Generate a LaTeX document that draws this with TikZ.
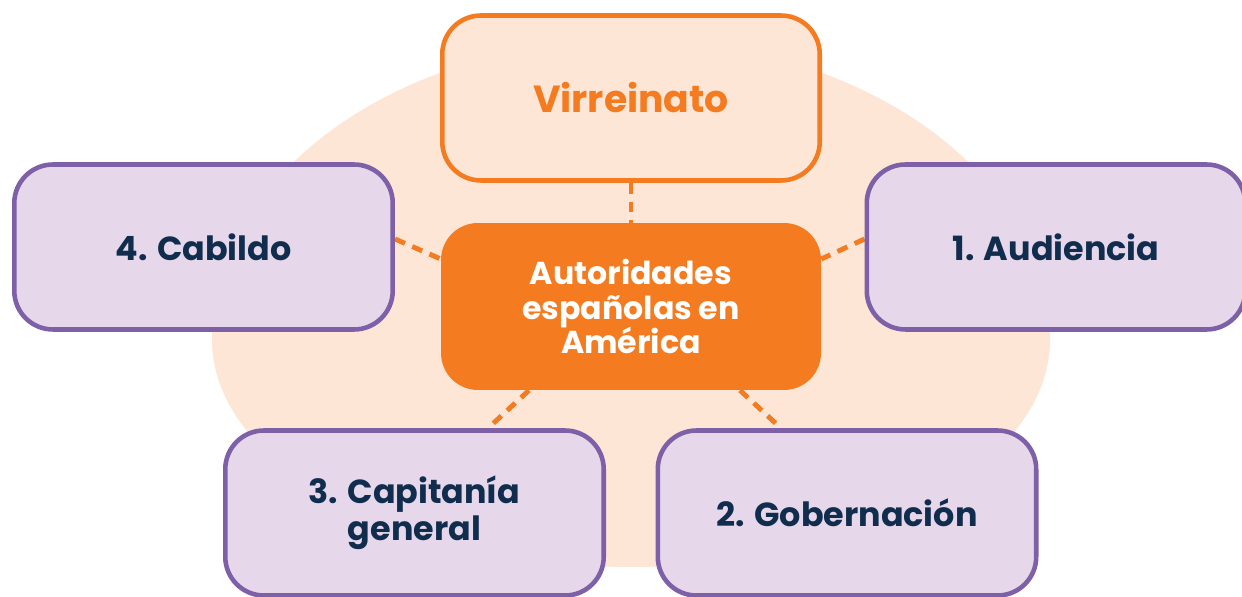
\documentclass[tikz,border=0pt]{standalone}
\usepackage{fontspec}
\setmainfont{Poppins}
\usepackage{xcolor}
\usepackage{tikz}
\usetikzlibrary{positioning,calc,backgrounds}
\definecolor{naranja}{HTML}{F47B20}
\definecolor{durazno}{HTML}{FDE6D6}
\definecolor{morado}{HTML}{7D60A8}
\definecolor{lila}{HTML}{E6D8EA}
\definecolor{marino}{HTML}{112D4E}
\tikzset{
  cargobox/.style={rectangle, draw=morado, fill=lila, line width=2.6pt,
    rounded corners=22pt, minimum width=7.57cm, minimum height=3.3cm,
    align=center, text=marino, font=\bfseries\fontsize{19}{21}\selectfont,
    inner sep=4pt},
  virreybox/.style={rectangle, draw=naranja, fill=durazno, line width=2.6pt,
    rounded corners=22pt, minimum width=7.55cm, minimum height=3.3cm,
    align=center, text=naranja, font=\bfseries\fontsize{21.5}{24}\selectfont,
    inner sep=4pt},
  centrobox/.style={rectangle, fill=naranja, rounded corners=21pt,
    minimum width=7.6cm, minimum height=3.34cm, align=center, text=white,
    font=\bfseries\fontsize{18}{19.8}\selectfont, inner sep=4pt},
  enlace/.style={draw=naranja, line width=2.8pt, dash pattern=on 6.2pt off 4.5pt},
}

\begin{document}
\begin{tikzpicture}[x=0.02cm, y=-0.02cm]
  \useasboundingbox (0,0) rectangle (1242,597);

  % ============ Boxes ============
  \node[virreybox] (virrey)  at ( 631,  98)   {Virreinato};
  \node[centrobox] (centro)  at ( 631, 306.5) {Autoridades\\españolas en\\América};
  \node[cargobox]  (cabildo) at ( 203.5, 247) {4. Cabildo};
  \node[cargobox]  (audien)  at (1056,  247)  {1. Audiencia};
  \node[cargobox]  (capitan) at ( 414.5, 513) {3. Capitanía\\general};
  \node[cargobox]  (gobern)  at ( 847,  513)  {2. Gobernación};

  % ============ Background blob + dashed links ============
  \begin{scope}[on background layer]
    \fill[durazno] (212,340) arc[start angle=180, end angle=0, x radius=419, y radius=-300]
      arc[start angle=0, end angle=-180, x radius=419, y radius=-227];

    \draw[enlace] (virrey.south) -- (centro.north);
    \draw[enlace] ($(cabildo.east)+(0,-8)$) -- ($(centro.west)+(0,-47.5)$);
    \draw[enlace] ($(audien.west)+(0,-8)$)  -- ($(centro.east)+(0,-47.5)$);
    \draw[enlace] ($(centro.south)+(-102,0)$) -- ($(capitan.north)+(73.5,0)$);
    \draw[enlace] ($(centro.south)+(109,0)$)  -- ($(gobern.north)+(-66,0)$);
  \end{scope}

\end{tikzpicture}
\end{document}
